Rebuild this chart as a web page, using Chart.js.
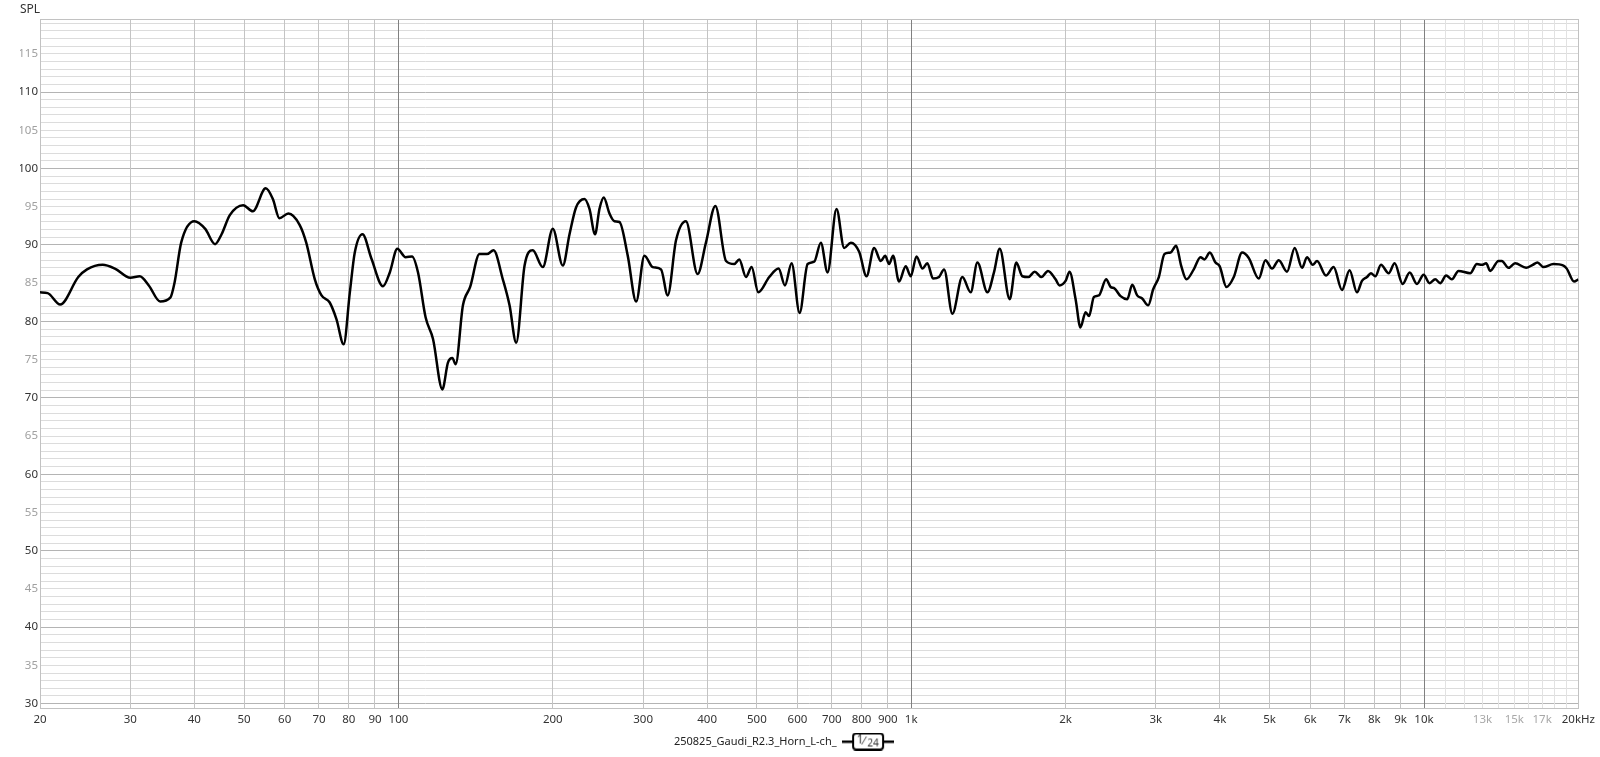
<!DOCTYPE html>
<html>
<head>
<meta charset="utf-8">
<script src="https://cdn.jsdelivr.net/npm/chart.js@4.4.1/dist/chart.umd.min.js"></script>
<style>
html, body { margin: 0; padding: 0; background: #fff; }
#wrap { width: 1600px; height: 757px; }
</style>
</head>
<body>
<div id="wrap"><canvas id="splChart"></canvas></div>
<script>
const freqHz = [
  20, 20.7, 21.9, 23.75, 24.7, 26.5, 28, 30, 31.3, 32.6, 34.3, 35.9, 36.6, 37.7, 40, 42, 43.9, 45.2, 46.9, 49.8,
  52, 55.1, 56.9, 58.6, 61, 64.2, 66.1, 68.7, 70.8, 73.4, 75.7, 78.2, 80.4, 82.2, 85.1, 88.6, 93.3, 96.2, 99.5,
  103.3, 106.3, 109.2, 113, 116.8, 121.8, 124.9, 127.4, 129.3, 133.6, 138, 143.9, 148.8, 153.3, 159.8, 164.7,
  169.7, 176.2, 182.8, 191.2, 200, 209.2, 215.6, 222, 230.6, 235.8, 241.8, 246.6, 251.4, 258, 263.8, 269.8,
  280, 290.8, 301.8, 313.2, 325.2, 335, 347.8, 363.6, 383.2, 397.8, 415, 435.4, 451.8, 462, 476.2, 488.4,
  503.2, 528.6, 551.2, 567.2, 584.4, 605.8, 628, 646.8, 666.4, 686.8, 715, 740, 762.6, 791.6, 818, 846.6,
  872.4, 889.6, 905.4, 921.8, 946.8, 975.6, 998, 1024, 1052, 1075, 1103, 1133, 1159, 1203, 1258, 1306, 1346,
  1408, 1450, 1488, 1556, 1603, 1647, 1692, 1741, 1794, 1848, 1912, 1946, 2000, 2036, 2092, 2138, 2188, 2222,
  2271, 2323, 2400, 2448, 2492, 2560, 2638, 2698, 2758, 2821, 2898, 2964, 3040, 3118, 3204, 3286, 3360, 3442,
  3556, 3664, 3731, 3822, 3920, 3996, 4118, 4256, 4418, 4552, 4762, 4906, 5054, 5208, 5406, 5596, 5782, 5914,
  6066, 6186, 6438, 6664, 6918, 7158, 7400, 7568, 7740, 7880, 8036, 8242, 8532, 8764, 9084, 9376, 9688, 9982,
  10252, 10516, 10754, 11046, 11330, 11674, 12304, 12678, 12966, 13220, 13458, 13972, 14180, 14610, 15054,
  15816, 16294, 16640, 17096, 17880, 18700, 18980, 19616, 20000
]
const splDb = [
  83.8, 83.7, 82.2, 85.8, 86.8, 87.4, 86.9, 85.7, 85.9, 84.7, 82.6, 83.1, 85.1, 90.3, 93.1, 92.1, 90.1, 91.4, 93.9, 95.2,
  94.4, 97.4, 96.0, 93.5, 94.1, 92.6, 90.3, 85.5, 83.4, 82.5, 80.3, 77.0, 83.8, 89.0, 91.4, 88.2, 84.6, 86.4, 89.5,
  88.4, 88.5, 86.4, 80.5, 77.7, 71.1, 74.6, 75.2, 74.4, 82.1, 84.5, 88.8, 88.8, 89.3, 85.5, 82.1,
  77.2, 87.3, 89.3, 87.1, 92.1, 87.3, 91.4, 94.9, 96.0, 94.7, 91.4, 94.7, 96.2, 94.1, 93.1, 93.0,
  88.6, 82.6, 88.6, 87.1, 86.8, 83.4, 90.6, 93.1, 86.2, 90.3, 95.1, 87.9, 87.5, 88.1, 85.8, 87.1,
  83.8, 85.8, 86.9, 84.7, 87.6, 81.1, 87.5, 87.8, 90.3, 86.4, 94.7, 89.6, 90.3, 89.1, 85.9, 89.6,
  87.9, 88.6, 87.5, 88.6, 85.2, 87.2, 85.9, 88.5, 86.9, 87.6, 85.6, 85.8, 86.8, 81.0, 85.8, 83.8, 87.7,
  83.8, 86.4, 89.5, 82.9, 87.7, 85.9, 85.8, 86.5, 85.8, 86.6, 85.5, 84.7, 85.3, 86.5, 82.9, 79.2, 81.2, 80.7,
  83.2, 83.4, 85.5, 84.5, 84.3, 83.3, 82.9, 84.8, 83.4, 83.0, 82.1, 84.2, 85.8, 88.8, 89.0, 89.9, 87.3, 85.5,
  86.8, 88.4, 88.1, 89.0, 87.7, 87.2, 84.5, 85.8, 89.0, 88.3, 85.6, 88.0, 86.9, 88.0, 86.5, 89.6, 87.0, 88.4,
  87.4, 87.9, 86.0, 87.1, 84.1, 86.7, 83.8, 85.3, 85.8, 86.3, 85.9, 87.4, 86.3, 87.6, 84.9, 86.4, 84.9, 86.1,
  85.0, 85.5, 85.0, 86.0, 85.5, 86.6, 86.3, 87.5, 87.4, 87.6, 86.6, 87.9, 87.9, 87.0, 87.6,
  87.0, 87.4, 87.7, 87.1, 87.5, 87.3, 86.9, 85.2, 85.5
]

const xTickValues = [
  20, 30, 40, 50, 60, 70, 80, 90, 100, 200, 300, 400, 500, 600, 700, 800, 900,
  1000, 2000, 3000, 4000, 5000, 6000, 7000, 8000, 9000, 10000,
  11000, 12000, 13000, 14000, 15000, 16000, 17000, 18000, 19000, 20000
]
const xTickLabels = [
  '20', '30', '40', '50', '60', '70', '80', '90', '100', '200', '300', '400', '500', '600', '700', '800', '900',
  '1k', '2k', '3k', '4k', '5k', '6k', '7k', '8k', '9k', '10k',
  '', '', '13k', '', '15k', '', '17k', '', '', '20kHz'
]
const xFaintLabels = ['13k', '15k', '17k']

const seriesName = '250825_Gaudi_R2.3_Horn_L-ch_'
const smoothing = '1/24'

Chart.defaults.font.family = "'Noto Sans', 'Open Sans', sans-serif"
Chart.defaults.font.size = 11.5

const CHART = document.getElementById('splChart')

// legend marker: the trace line with the smoothing badge on it
function legendMarker () {
  const c = document.createElement('canvas')
  c.width = 52
  c.height = 18
  const ctx = c.getContext('2d')
  ctx.fillStyle = '#000'
  ctx.fillRect(0, 8, 52, 2.5)
  const x0 = 11, y0 = 1, w = 30, h = 16, r = 3
  ctx.beginPath()
  ctx.moveTo(x0 + r, y0)
  ctx.arcTo(x0 + w, y0, x0 + w, y0 + h, r)
  ctx.arcTo(x0 + w, y0 + h, x0, y0 + h, r)
  ctx.arcTo(x0, y0 + h, x0, y0, r)
  ctx.arcTo(x0, y0, x0 + w, y0, r)
  ctx.closePath()
  ctx.fillStyle = '#fff'
  ctx.fill()
  ctx.lineWidth = 2
  ctx.strokeStyle = '#000'
  ctx.stroke()
  const parts = smoothing.split('/')
  ctx.fillStyle = '#333'
  ctx.textBaseline = 'middle'
  ctx.textAlign = 'center'
  ctx.font = "12px 'Noto Sans', sans-serif"
  ctx.fillText(parts[0], 18, 8)
  ctx.font = "11px 'Noto Sans', sans-serif"
  ctx.fillText('\u2044', 22, 9)
  ctx.font = "10px 'Noto Sans', sans-serif"
  ctx.fillText(parts[1], 31, 11)
  return c
}

const frame = {
  id: 'frame',
  beforeDatasetsDraw (chart) {
    const a = chart.chartArea
    const ctx = chart.ctx
    ctx.save()
    ctx.strokeStyle = '#c2c2c2'
    ctx.lineWidth = 1
    ctx.strokeRect(Math.round(a.left) + 0.5, Math.round(a.top) + 0.5, Math.round(a.right - a.left), Math.round(a.bottom - a.top))
    ctx.restore()
  }
}

// legend sits a bit left of centre
const legendShift = {
  id: 'legendShift',
  afterUpdate (chart) {
    const lg = chart.legend
    lg.left -= 16
    lg.right -= 16
    lg.adjustHitBoxes()
  }
}

new Chart(CHART, {
  type: 'line',
  data: {
    datasets: [
      {
        label: seriesName,
        data: freqHz.map((f, i) => ({ x: f, y: splDb[i] })),
        borderColor: '#000',
        backgroundColor: '#000',
        borderWidth: 2.5,
        pointRadius: 0,
        pointStyle: legendMarker(),
        cubicInterpolationMode: 'monotone'
      }
    ]
  },
  options: {
    responsive: true,
    maintainAspectRatio: false,
    animation: false,
    layout: { padding: { left: 20, right: 20, top: 0, bottom: 0 } },
    plugins: {
      title: {
        display: true,
        text: 'SPL',
        align: 'start',
        color: '#333',
        font: { size: 12, weight: 'normal' },
        padding: { top: 2, bottom: 3 }
      },
      legend: {
        position: 'bottom',
        rtl: true,
        textDirection: 'ltr',
        labels: {
          color: '#222',
          usePointStyle: true,
          pointStyleWidth: 52,
          boxHeight: 11,
          padding: 4,
          font: { size: 11 }
        }
      },
      tooltip: { enabled: false }
    },
    scales: {
      y: {
        min: 29.4,
        max: 119.5,
        afterFit: s => { s.width = 20 },
        afterBuildTicks: s => {
          const t = []
          for (let v = 30; v <= 119; v++) t.push({ value: v })
          s.ticks = t
        },
        grid: {
          drawTicks: false,
          color: c => c.tick.value % 10 === 0 ? '#b4b4b4' : '#dcdcdc'
        },
        border: { color: '#c2c2c2' },
        ticks: {
          padding: 2,
          autoSkip: false,
          callback: v => v % 5 === 0 ? String(v) : '',
          color: c => c.tick.value % 10 === 0 ? '#333' : '#a0a0a0'
        }
      },
      x: {
        type: 'logarithmic',
        min: 20,
        max: 20000,
        afterBuildTicks: s => { s.ticks = xTickValues.map(v => ({ value: v })) },
        grid: {
          drawTicks: false,
          color: c => {
            const v = c.tick.value
            if (v === 100 || v === 1000 || v === 10000) return '#808080'
            if (v > 10000 && v < 20000) return '#e2e2e2'
            return '#c4c4c4'
          }
        },
        border: { color: '#c2c2c2' },
        ticks: {
          autoSkip: false,
          maxRotation: 0,
          padding: 5,
          callback: (v, i) => xTickLabels[i],
          color: c => xFaintLabels.includes(xTickLabels[c.index]) ? '#a8a8a8' : '#333'
        }
      }
    }
  },
  plugins: [frame, legendShift]
})
</script>
</body>
</html>
